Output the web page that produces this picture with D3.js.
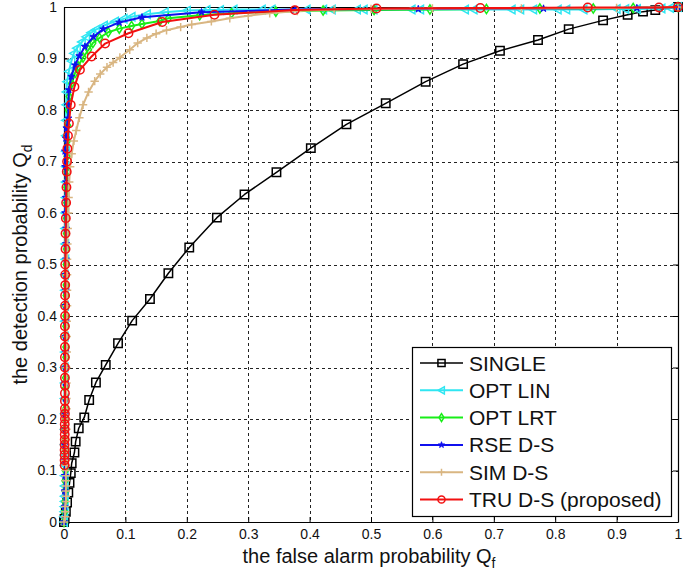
<!DOCTYPE html>
<html><head><meta charset="utf-8">
<script src="https://cdn.jsdelivr.net/npm/d3@7"></script>
<style>
html,body{margin:0;padding:0;background:#fff;}
svg{display:block;font-family:"Liberation Sans",Arial,sans-serif;}
</style></head>
<body><svg id="chart" width="685" height="576"></svg>
<script>
// ---- data ----
const xTicks = [0,0.1,0.2,0.3,0.4,0.5,0.6,0.7,0.8,0.9,1];
const yTicks = [0,0.1,0.2,0.3,0.4,0.5,0.6,0.7,0.8,0.9,1];
const xTickLabels = ["0","0.1","0.2","0.3","0.4","0.5","0.6","0.7","0.8","0.9","1"];
const yTickLabels = ["0","0.1","0.2","0.3","0.4","0.5","0.6","0.7","0.8","0.9","1"];
const seriesNames = ["SINGLE","OPT LIN","OPT LRT","RSE D-S","SIM D-S","TRU D-S (proposed)"];

const single = [[0,0],[0.001,0.006],[0.003,0.02],[0.005,0.038],[0.007,0.057],[0.009,0.076],[0.011,0.095],[0.0125,0.114],[0.017,0.135],[0.019,0.156],[0.024,0.182],[0.033,0.203],[0.041,0.237],[0.052,0.271],[0.068,0.305],[0.088,0.347],[0.111,0.391],[0.140,0.433],[0.170,0.483],[0.204,0.533],[0.249,0.591],[0.294,0.636],[0.346,0.679],[0.402,0.726],[0.460,0.772],[0.524,0.813],[0.589,0.855],[0.650,0.889],[0.710,0.915],[0.772,0.936],[0.822,0.957],[0.878,0.974],[0.918,0.985],[0.943,0.991],[0.963,0.994],[1,1]];

const optLin = [[0,0],[0,0.01],[0.0005,0.02],[0.0005,0.03],[0.001,0.04],[0.001,0.05],[0.001,0.07],[0.001,0.09],[0.001,0.11],[0.001,0.13],[0.001,0.15],[0.001,0.18],[0.001,0.21],[0.001,0.24],[0.001,0.27],[0.001,0.30],[0.0012,0.33],[0.0012,0.36],[0.0015,0.39],[0.0015,0.42],[0.0015,0.45],[0.0015,0.48],[0.002,0.51],[0.002,0.54],[0.002,0.57],[0.002,0.60],[0.0025,0.63],[0.0025,0.66],[0.003,0.69],[0.003,0.72],[0.003,0.75],[0.003,0.78],[0.0035,0.81],[0.004,0.835],[0.005,0.855],[0.008,0.875],[0.012,0.895],[0.016,0.91],[0.021,0.92],[0.029,0.932],[0.036,0.942],[0.044,0.95],[0.052,0.956],[0.065,0.964],[0.083,0.972],[0.097,0.977],[0.11,0.981],[0.135,0.986],[0.164,0.99],[0.2,0.993],[0.232,0.994],[0.254,0.994],[0.276,0.995],[0.322,0.995],[0.338,0.995],[0.395,0.995],[0.422,0.995],[0.436,0.995],[0.477,0.995],[0.488,0.995],[0.504,0.995],[0.566,0.995],[0.58,0.995],[0.653,0.995],[0.667,0.995],[0.729,0.995],[0.743,0.995],[0.764,0.995],[0.804,0.995],[0.818,0.995],[0.846,0.995],[0.9,0.996],[0.914,0.996],[0.933,0.996],[0.973,0.997],[0.987,0.998],[1,1]];

const optLrt = [[0,0],[0.001,0.02],[0.0015,0.04],[0.0015,0.06],[0.0015,0.08],[0.002,0.10],[0.002,0.12],[0.002,0.14],[0.002,0.16],[0.002,0.18],[0.0025,0.20],[0.0025,0.22],[0.0025,0.24],[0.0025,0.26],[0.0025,0.28],[0.003,0.30],[0.003,0.32],[0.003,0.34],[0.003,0.36],[0.003,0.38],[0.003,0.40],[0.003,0.42],[0.0035,0.44],[0.0035,0.46],[0.0035,0.48],[0.0035,0.50],[0.004,0.53],[0.004,0.56],[0.004,0.59],[0.0045,0.62],[0.0045,0.65],[0.005,0.68],[0.005,0.71],[0.0055,0.74],[0.006,0.77],[0.007,0.80],[0.0085,0.826],[0.0125,0.852],[0.018,0.872],[0.023,0.885],[0.031,0.902],[0.04,0.917],[0.047,0.93],[0.058,0.94],[0.072,0.951],[0.09,0.958],[0.11,0.963],[0.127,0.967],[0.156,0.973],[0.17,0.978],[0.221,0.984],[0.273,0.988],[0.345,0.991],[0.422,0.993],[0.505,0.994],[0.596,0.995],[0.688,0.996],[0.775,0.997],[0.862,0.997],[0.927,0.998],[1,1]];

const rseDs = [[0,0],[0.001,0.03],[0.001,0.06],[0.0015,0.09],[0.0015,0.12],[0.0015,0.15],[0.002,0.18],[0.002,0.21],[0.002,0.24],[0.002,0.27],[0.0025,0.30],[0.0025,0.33],[0.0025,0.36],[0.003,0.39],[0.003,0.42],[0.003,0.45],[0.003,0.48],[0.0035,0.51],[0.0035,0.54],[0.0035,0.57],[0.002,0.60],[0.003,0.63],[0.0035,0.66],[0.002,0.69],[0.0016,0.72],[0.003,0.745],[0.004,0.765],[0.007,0.784],[0.007,0.81],[0.008,0.839],[0.012,0.865],[0.018,0.887],[0.025,0.905],[0.034,0.923],[0.048,0.942],[0.064,0.957],[0.09,0.97],[0.127,0.98],[0.224,0.99],[0.376,0.995],[0.577,0.996],[0.781,0.997],[0.933,0.998],[1,1]];

const simDs = [[0,0],[0.002,0.01],[0.002,0.02],[0.002,0.03],[0.003,0.04],[0.003,0.05],[0.003,0.06],[0.003,0.07],[0.003,0.08],[0.003,0.09],[0.0035,0.10],[0.0035,0.11],[0.0035,0.12],[0.0035,0.14],[0.004,0.16],[0.004,0.18],[0.004,0.20],[0.004,0.22],[0.004,0.24],[0.004,0.27],[0.004,0.30],[0.0045,0.33],[0.0045,0.36],[0.0045,0.39],[0.005,0.42],[0.005,0.45],[0.005,0.48],[0.005,0.51],[0.0055,0.54],[0.006,0.57],[0.007,0.60],[0.0075,0.63],[0.0085,0.66],[0.01,0.69],[0.0125,0.715],[0.016,0.74],[0.02,0.76],[0.025,0.785],[0.031,0.81],[0.04,0.835],[0.05,0.856],[0.059,0.87],[0.07,0.883],[0.08,0.892],[0.091,0.902],[0.107,0.917],[0.12,0.93],[0.135,0.94],[0.15,0.948],[0.167,0.955],[0.19,0.961],[0.208,0.966],[0.24,0.972],[0.27,0.978],[0.3,0.983],[0.335,0.988],[0.38,0.992],[0.44,0.995],[0.5,0.996],[0.6,0.997],[0.745,0.997],[0.9,0.998],[1,1]];

const truDs = [[0.001,0.11],[0.001,0.12],[0.001,0.13],[0.001,0.14],[0.001,0.15],[0.0012,0.16],[0.0012,0.17],[0.0012,0.18],[0.0012,0.19],[0.0015,0.20],[0.0015,0.21],[0.0015,0.22],[0.0015,0.235],[0.0015,0.25],[0.0015,0.265],[0.0015,0.28],[0.0015,0.30],[0.0015,0.32],[0.0015,0.34],[0.0015,0.36],[0.0015,0.38],[0.0018,0.40],[0.0018,0.42],[0.0018,0.44],[0.002,0.46],[0.002,0.48],[0.002,0.50],[0.0025,0.53],[0.0025,0.56],[0.003,0.59],[0.0035,0.62],[0.004,0.65],[0.0045,0.68],[0.005,0.70],[0.0055,0.725],[0.0065,0.75],[0.008,0.774],[0.011,0.81],[0.017,0.845],[0.026,0.878],[0.045,0.904],[0.067,0.929],[0.105,0.949],[0.16,0.971],[0.245,0.985],[0.376,0.994],[0.509,0.997],[0.678,0.998],[0.853,0.999],[0.969,0.999],[1,1]];

// ---- layout ----
const svg = d3.select("#chart");
const x = d3.scaleLinear().domain([0,1]).range([64,678]);
const y = d3.scaleLinear().domain([0,1]).range([522,7]);

// grid
const grid = svg.append("g").attr("stroke","#222").attr("stroke-width",1).attr("stroke-dasharray","3,3");
xTicks.slice(1,-1).forEach(t=>{
  grid.append("line").attr("x1",Math.round(x(t))+0.5).attr("x2",Math.round(x(t))+0.5).attr("y1",y(1)).attr("y2",y(0));
});
yTicks.slice(1,-1).forEach(t=>{
  grid.append("line").attr("y1",Math.round(y(t))+0.5).attr("y2",Math.round(y(t))+0.5).attr("x1",x(0)).attr("x2",x(1));
});

// axes (MATLAB-style inward ticks on all sides)
const fmtX = (d,i)=>xTickLabels[i];
const fmtY = (d,i)=>yTickLabels[i];
const axB = svg.append("g").attr("transform",`translate(0,${y(0)})`)
  .call(d3.axisBottom(x).tickValues(xTicks).tickFormat(fmtX).tickSizeInner(-5).tickSizeOuter(0).tickPadding(7));
const axL = svg.append("g").attr("transform",`translate(${x(0)},0)`)
  .call(d3.axisLeft(y).tickValues(yTicks).tickFormat(fmtY).tickSizeInner(-5).tickSizeOuter(0).tickPadding(7));
const axT = svg.append("g").attr("transform",`translate(0,${y(1)})`)
  .call(d3.axisTop(x).tickValues(xTicks).tickFormat("").tickSizeInner(-5).tickSizeOuter(0));
const axR = svg.append("g").attr("transform",`translate(${x(1)},0)`)
  .call(d3.axisRight(y).tickValues(yTicks).tickFormat("").tickSizeInner(-5).tickSizeOuter(0));
[axB,axL,axT,axR].forEach(a=>{
  a.select(".domain").attr("stroke","#000").attr("stroke-width",1.2);
  a.selectAll(".tick line").attr("stroke","#000");
  a.selectAll("text").attr("font-size",14).attr("fill","#111").attr("font-family","'Liberation Sans',Arial,sans-serif");
});

// markers
function markerPath(type, s){
  switch(type){
    case "square": return `M${-s},${-s}H${s}V${s}H${-s}Z`;
    case "tri": return `M${-s},0L${s*0.8},${-s}L${s*0.8},${s}Z`;
    case "diamond": return `M0,${-s*1.1}L${s*0.7},0L0,${s*1.1}L${-s*0.7},0Z`;
    case "plus": return `M${-s},0H${s}M0,${-s}V${s}`;
    case "circle": return d3.symbol(d3.symbolCircle, Math.PI*s*s)();
    case "star": return d3.symbol(d3.symbolStar, s*s*3.2)();
  }
}
const styles = [
  {data:single, color:"#000000", lw:1.5, marker:"square", ms:4.2, fill:"none"},
  {data:optLin, color:"#2fe6f2", lw:2, marker:"tri", ms:4.2, fill:"none"},
  {data:optLrt, color:"#18ee18", lw:2, marker:"diamond", ms:4.2, fill:"none"},
  {data:rseDs,  color:"#1010ee", lw:2, marker:"star", ms:2.2, fill:"#1010ee"},
  {data:simDs,  color:"#d9b682", lw:2, marker:"plus", ms:4.2, fill:"none"},
  {data:truDs,  color:"#f21010", lw:2, marker:"circle", ms:4.2, fill:"none"}
];
const line = d3.line().x(d=>x(d[0])).y(d=>y(d[1]));
styles.forEach(st=>{
  const g = svg.append("g");
  g.append("path").attr("d",line(st.data)).attr("fill","none").attr("stroke",st.color).attr("stroke-width",st.lw).attr("stroke-linejoin","round");
  g.selectAll("path.m").data(st.data).enter().append("path").attr("class","m")
    .attr("transform",d=>`translate(${x(d[0])},${y(d[1])})`)
    .attr("d",markerPath(st.marker,st.ms))
    .attr("fill",st.fill).attr("stroke",st.color).attr("stroke-width",st.marker==="star"?1:1.5);
});

// axis titles
const xt = svg.append("text").attr("x",369).attr("y",563).attr("text-anchor","middle")
  .attr("font-size",20).attr("fill","#111");
xt.append("tspan").text("the false alarm probability Q");
xt.append("tspan").attr("font-size",14).attr("dy",5).text("f");
const yt = svg.append("text").attr("transform",`translate(27,${(y(0)+y(1))/2}) rotate(-90)`).attr("text-anchor","middle")
  .attr("font-size",20).attr("fill","#111");
yt.append("tspan").text("the detection probability Q");
yt.append("tspan").attr("font-size",14).attr("dy",5).text("d");

// legend
const lg = svg.append("g");
lg.append("rect").attr("x",412.5).attr("y",347.5).attr("width",259).attr("height",169).attr("fill","#fff").attr("stroke","#000").attr("stroke-width",1.2);
styles.forEach((st,i)=>{
  const cy = 363 + i*27.3;
  lg.append("line").attr("x1",420).attr("x2",463).attr("y1",cy).attr("y2",cy).attr("stroke",st.color).attr("stroke-width",st.lw);
  lg.append("path").attr("transform",`translate(441.5,${cy})`).attr("d",markerPath(st.marker,st.ms*0.85))
    .attr("fill",st.fill).attr("stroke",st.color).attr("stroke-width",st.marker==="star"?1:1.5);
  lg.append("text").attr("x",469).attr("y",cy).attr("dy","0.36em").attr("font-size",21).attr("fill","#111").text(seriesNames[i]);
});
</script></body></html>
